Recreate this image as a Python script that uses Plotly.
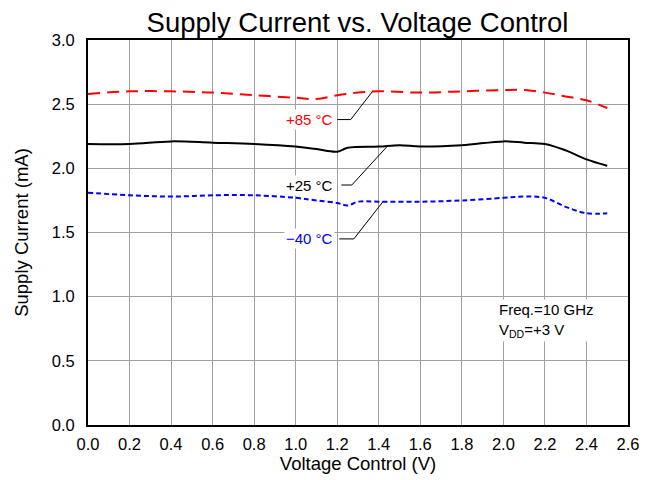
import plotly.graph_objects as go

x85 = [0.0, 0.2, 0.4, 0.6, 0.8, 1.0, 1.1, 1.2, 1.3, 1.4, 1.6, 1.8, 2.0, 2.1, 2.2, 2.3, 2.4, 2.5]
y85 = [2.58, 2.60, 2.60, 2.59, 2.57, 2.55, 2.54, 2.57, 2.59, 2.60, 2.59, 2.60, 2.61, 2.61, 2.59, 2.56, 2.53, 2.47]

x25 = [0.0, 0.2, 0.4, 0.6, 0.8, 1.0, 1.1, 1.2, 1.25, 1.4, 1.5, 1.6, 1.8, 2.0, 2.1, 2.2, 2.3, 2.4, 2.5]
y25 = [2.19, 2.19, 2.21, 2.20, 2.19, 2.17, 2.15, 2.13, 2.16, 2.17, 2.18, 2.17, 2.18, 2.21, 2.20, 2.19, 2.14, 2.07, 2.02]

xm40 = [0.0, 0.2, 0.4, 0.6, 0.8, 1.0, 1.1, 1.2, 1.25, 1.3, 1.4, 1.6, 1.8, 2.0, 2.1, 2.2, 2.3, 2.4, 2.5]
ym40 = [1.81, 1.79, 1.78, 1.79, 1.79, 1.77, 1.75, 1.73, 1.71, 1.74, 1.74, 1.74, 1.75, 1.77, 1.78, 1.77, 1.70, 1.65, 1.65]

labels = ["+85 °C", "+25 °C", "\u221240 °C"]
colors = ["#ff0000", "#000000", "#0000ff"]

FONT = "Liberation Sans, Arial"

fig = go.Figure()
fig.add_trace(go.Scatter(x=x85, y=y85, mode="lines", line=dict(color=colors[0], width=2, dash="12px,7px"), line_shape="spline"))
fig.add_trace(go.Scatter(x=x25, y=y25, mode="lines", line=dict(color=colors[1], width=2), line_shape="spline"))
fig.add_trace(go.Scatter(x=xm40, y=ym40, mode="lines", line=dict(color=colors[2], width=2, dash="5px,3px"), line_shape="spline"))

# leader lines
leaders = [
    ([1.20, 1.265, 1.37], [2.38, 2.38, 2.60]),
    ([1.22, 1.27, 1.44], [1.87, 1.87, 2.17]),
    ([1.21, 1.28, 1.42], [1.45, 1.45, 1.74]),
]
label_pos = [(1.19, 2.38), (1.19, 1.87), (1.19, 1.45)]
for (lx, ly), lab, col, (px, py) in zip(leaders, labels, colors, label_pos):
    fig.add_trace(go.Scatter(x=lx, y=ly, mode="lines", line=dict(color="black", width=1)))
    fig.add_annotation(x=px, y=py, text=lab, showarrow=False, xanchor="right", yanchor="middle",
                       font=dict(color=col, size=15, family=FONT), bgcolor="white",
                       borderpad=1)

fig.add_annotation(x=1.97, y=0.98, text="Freq.=10 GHz<br>V<sub>DD</sub>=+3 V", showarrow=False,
                   xanchor="left", yanchor="top", align="left", bgcolor="white",
                   font=dict(color="black", size=15, family=FONT))

fig.update_layout(
    width=657, height=480,
    margin=dict(l=80, r=37, t=32, b=63, autoexpand=False),
    paper_bgcolor="white", plot_bgcolor="white",
    showlegend=False,
    font=dict(family=FONT, color="black", size=16),
    title=dict(text="Supply Current vs. Voltage Control", x=349.5 / 657, xanchor="center",
               y=1 - 14 / 480, yanchor="middle", automargin=False,
               font=dict(size=27.5, color="black", family=FONT)),
)
fig.update_xaxes(range=[0, 2.6], dtick=0.2, tickformat=".1f", showgrid=True, gridcolor="#a0a0a0", gridwidth=1,
                 showline=True, linecolor="black", linewidth=2, mirror=True, ticks="", zeroline=False,
                 automargin=False, ticklabelstandoff=3,
                 title=dict(text="Voltage Control (V)", font=dict(size=18.5), standoff=5),
                 tickfont=dict(size=16.5))
fig.update_yaxes(range=[0, 3.0], dtick=0.5, tickformat=".1f", showgrid=True, gridcolor="#a0a0a0", gridwidth=1,
                 showline=True, linecolor="black", linewidth=2, mirror=True, ticks="", zeroline=False,
                 automargin=False, ticklabelstandoff=8,
                 title=dict(text="Supply Current (mA)", font=dict(size=18.5), standoff=18),
                 tickfont=dict(size=16.5))

fig.write_html("out.html")
